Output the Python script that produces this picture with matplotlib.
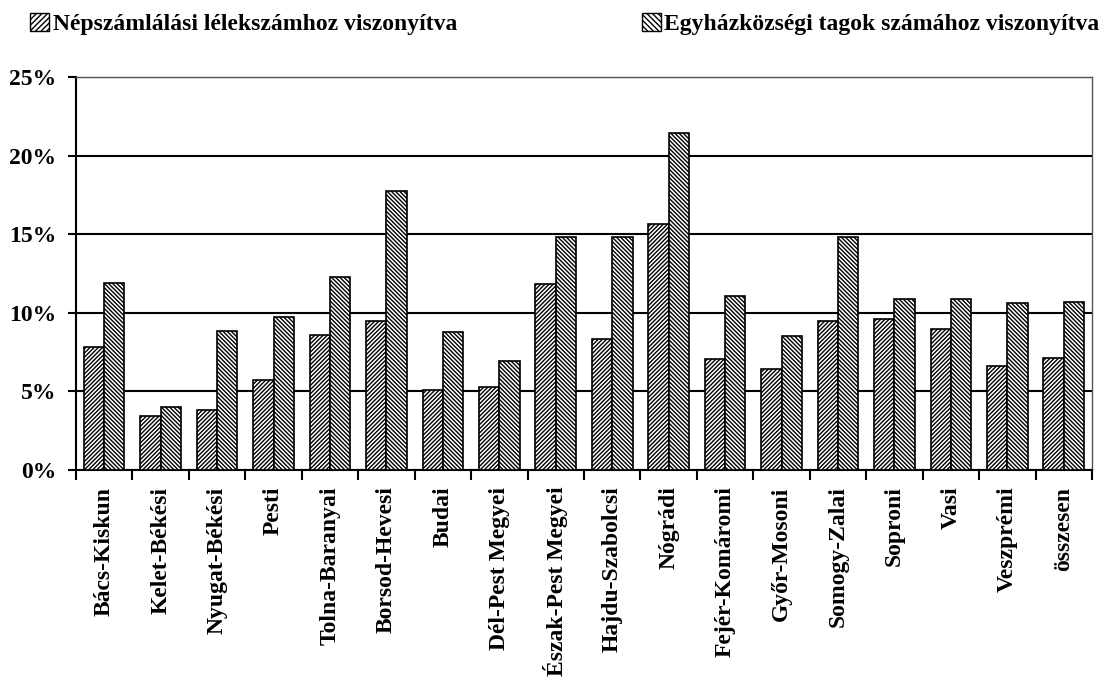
import matplotlib
matplotlib.use("Agg")
import matplotlib.pyplot as plt
import numpy as np
from matplotlib.patches import Patch
from matplotlib.ticker import PercentFormatter

plt.rcParams["font.family"] = ["Liberation Serif", "DejaVu Serif"]
plt.rcParams["hatch.linewidth"] = 1.0

categories = [
    "Bács-Kiskun", "Kelet-Békési", "Nyugat-Békési", "Pesti", "Tolna-Baranyai",
    "Borsod-Hevesi", "Budai", "Dél-Pest Megyei", "Észak-Pest Megyei",
    "Hajdu-Szabolcsi", "Nógrádi", "Fejér-Komáromi", "Győr-Mosoni",
    "Somogy-Zalai", "Soproni", "Vasi", "Veszprémi", "összesen",
]
nepszamlalas = [7.8, 3.4, 3.8, 5.7, 8.6, 9.5, 5.1, 5.3, 11.85, 8.3, 15.65,
                7.05, 6.4, 9.5, 9.6, 8.95, 6.6, 7.15]
egyhazkozseg = [11.9, 4.0, 8.85, 9.7, 12.3, 17.75, 8.75, 6.9, 14.85, 14.85,
                21.45, 11.05, 8.5, 14.85, 10.85, 10.85, 10.6, 10.7]
series_labels = ["Népszámlálási lélekszámhoz viszonyítva",
                 "Egyházközségi tagok számához viszonyítva"]

fig = plt.figure(figsize=(11.12, 6.84), dpi=100)
ax = fig.add_axes([0.0683, 0.313, 0.9137, 0.5744])

x = np.arange(len(categories))
w = 0.36
ax.bar(x - w / 2, nepszamlalas, w, color="white", edgecolor="black",
       hatch="////////", linewidth=1.2, zorder=3)
ax.bar(x + w / 2, egyhazkozseg, w, color="white", edgecolor="black",
       hatch="\\\\\\\\\\\\\\\\", linewidth=1.2, zorder=3)

ax.set_xlim(-0.5, len(categories) - 0.5)
ax.set_ylim(0, 25)
ax.set_yticks(np.arange(0, 26, 5))
ax.yaxis.set_major_formatter(PercentFormatter(decimals=0))
ax.grid(axis="y", color="black", linewidth=1.5, zorder=0)

ax.set_xticks(np.arange(len(categories) + 1) - 0.5, minor=False)
ax.set_xticklabels([])
ax.set_xticks(x, minor=True)
ax.set_xticklabels(categories, minor=True, rotation=90, fontsize=17,
                   fontweight="bold", va="top")
ax.tick_params(axis="x", which="minor", length=0, pad=12)
ax.tick_params(axis="x", which="major", direction="out", length=7, width=1.5)
ax.tick_params(axis="y", direction="out", length=6, width=1.5,
               labelsize=17, pad=8)
for t in ax.get_yticklabels():
    t.set_fontweight("bold")

for side in ["top", "right"]:
    ax.spines[side].set_linewidth(1.0)
    ax.spines[side].set_color("#555555")
for side in ["left", "bottom"]:
    ax.spines[side].set_linewidth(1.5)

h1 = Patch(facecolor="white", edgecolor="black", hatch="//////")
h2 = Patch(facecolor="white", edgecolor="black", hatch="\\\\\\\\\\\\")
legend_font = {"size": 17, "weight": "bold"}
fig.legend([h1], [series_labels[0]], loc="upper left",
           bbox_to_anchor=(0.008, 1.012), frameon=False, prop=legend_font,
           handlelength=0.8, handleheight=0.8, handletextpad=0.15)
fig.legend([h2], [series_labels[1]], loc="upper right",
           bbox_to_anchor=(1.008, 1.012), frameon=False, prop=legend_font,
           handlelength=0.8, handleheight=0.8, handletextpad=0.15)

fig.savefig("out.png", dpi=100)
